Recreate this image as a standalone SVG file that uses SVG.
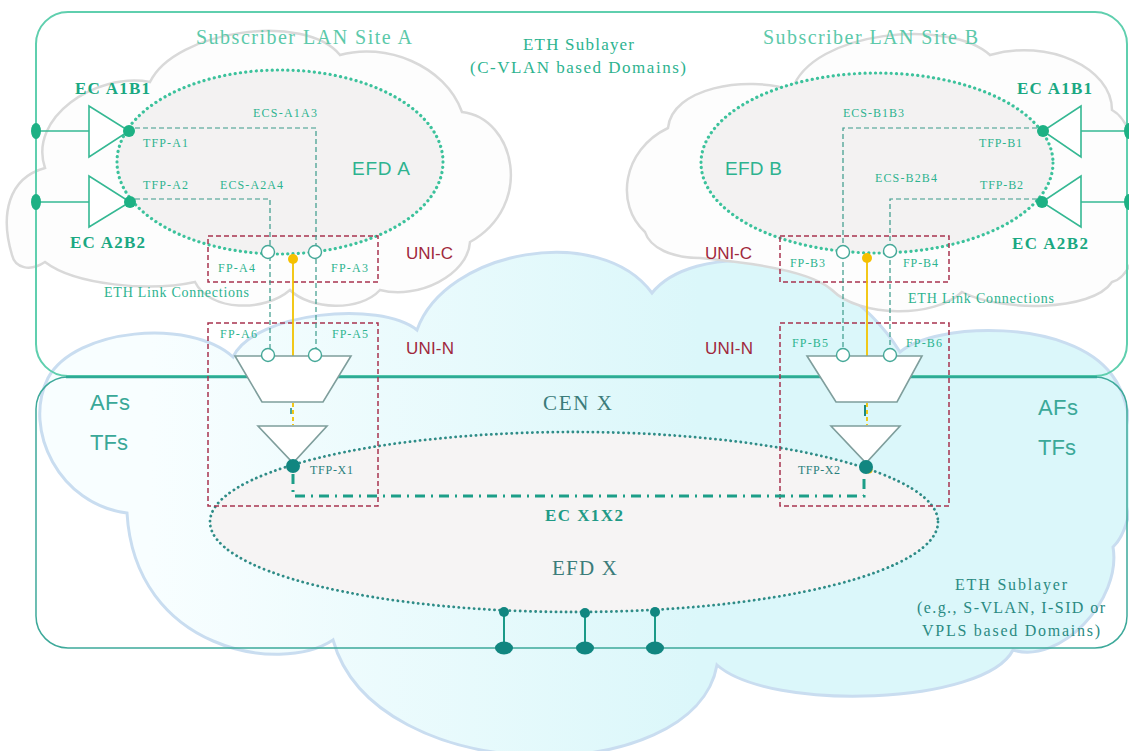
<svg xmlns="http://www.w3.org/2000/svg" width="1129" height="751" viewBox="0 0 1129 751">
<defs>
<linearGradient id="cenFill" gradientUnits="userSpaceOnUse" x1="150" y1="0" x2="700" y2="0">
<stop offset="0" stop-color="#f8feff"/>
<stop offset="1" stop-color="#dbf7fa"/>
</linearGradient>
</defs>
<style>
.cloudS{fill:#fdfdfd;stroke:#d9d9d9;stroke-width:2.5}
.cloudC{fill:url(#cenFill);stroke:#c9ddf0;stroke-width:3}
.efd{fill:#f3f2f2;stroke:#3cc29c;stroke-width:3.2;stroke-dasharray:0.1 5.2;stroke-linecap:round}
.efdx{fill:#f6f4f4;stroke:#2f8c87;stroke-width:2.8;stroke-dasharray:0.1 5;stroke-linecap:round}
.box{fill:none;stroke:#5fcfae;stroke-width:2}
.box2{fill:none;stroke:#3da99a;stroke-width:1.5}
.sep{stroke:#2eaa96;stroke-width:2.5}
.ecs{fill:none;stroke:#3a9a8a;stroke-width:1.2;stroke-dasharray:5 3}
.uni{fill:none;stroke:#a8334f;stroke-width:1.5;stroke-dasharray:5 3}
.ecl{stroke:#35b893;stroke-width:1.6}
.ec{fill:#fff;stroke:#35b893;stroke-width:1.6}
.af{fill:#fff;stroke:#7f9e9c;stroke-width:1.6}
.fp{fill:#fff;stroke:#45a898;stroke-width:1.4}
.tfp{fill:#1db184}
.tfpx{fill:#118680}
.yl{stroke:#f2c200;stroke-width:1.8;fill:none}
.yd{fill:#f5c000}
.xx{fill:none;stroke:#1c9e88;stroke-width:3;stroke-dasharray:10 6 2 6}
.att{stroke:#1a9a88;stroke-width:2}
.t{font-family:"Liberation Serif","Times New Roman",serif;fill:#2db38f}
.s{font-family:"Liberation Sans",Arial,sans-serif}
.b{font-weight:bold;fill:#1aa882}
.red{fill:#a0283c}
.dk{fill:#3b7c7a}
</style>
<rect width="1129" height="751" fill="#ffffff"/>

<g id="clouds">
<path class="cloudC" d="M127,513 C60,505 22,430 48,378 C75,328 190,318 233,357 C255,312 380,300 417,330 C445,250 600,222 652,293 C690,245 830,240 900,352 C935,322 1070,318 1112,375 C1140,410 1142,520 1113,547 C1122,600 1060,665 1013,650 C985,705 770,712 717,665 C695,790 375,790 333,640 C280,675 135,650 127,513 Z"/>
<path class="cloudS" d="M12,255 C0,215 8,178 45,168 C28,118 95,72 150,82 C175,30 305,12 340,55 C385,42 445,65 462,112 C515,118 535,205 470,242 C468,275 418,300 380,290 C360,312 310,310 290,290 C265,312 210,312 195,282 C150,292 75,285 45,262 C30,272 15,268 12,255 Z"/>
<path class="cloudS" d="M645,232 C615,205 622,150 668,128 C672,88 745,75 792,90 C812,30 950,18 990,55 C1048,38 1112,68 1112,110 C1150,130 1152,272 1112,282 C1092,312 1000,312 962,292 C935,318 860,318 832,290 C810,270 745,262 700,258 C672,258 650,248 645,232 Z"/>
</g>

<g id="frames">
<rect class="box" x="36" y="12" width="1091" height="364" rx="32"/>
<rect class="box2" x="36" y="377" width="1091" height="271" rx="32"/>
<line class="sep" x1="66" y1="377" x2="1097" y2="377"/>
</g>

<g id="domains">
<ellipse id="efd-a" class="efd" cx="280" cy="162" rx="163" ry="92"/>
<ellipse id="efd-b" class="efd" cx="877" cy="163" rx="176" ry="90"/>
<ellipse id="efd-x" class="efdx" cx="574" cy="522" rx="364" ry="90"/>
</g>

<g id="uni-boxes">
<rect class="uni" x="208" y="236" width="170" height="46"/>
<rect class="uni" x="208" y="323" width="170" height="183"/>
<rect class="uni" x="780" y="236" width="169" height="46"/>
<rect class="uni" x="780" y="323" width="169" height="183"/>
</g>

<g id="connectors">
<line class="ecl" x1="36" y1="131" x2="89" y2="131"/>
<line class="ecl" x1="36" y1="202" x2="89" y2="202"/>
<line class="ecl" x1="1081" y1="131" x2="1129" y2="131"/>
<line class="ecl" x1="1081" y1="202" x2="1129" y2="202"/>
<path class="ecs" d="M135,128 H316 V355"/>
<path class="ecs" d="M135,199 H270 V355"/>
<path class="ecs" d="M1037,128 H843 V355"/>
<path class="ecs" d="M1037,199 H890 V355"/>
<line class="yl" x1="293" y1="259" x2="293" y2="357"/>
<line class="yl" x1="867" y1="258" x2="867" y2="357"/>
<line class="yl" x1="293" y1="403" x2="293" y2="425" stroke-dasharray="4 3"/>
<line class="yl" x1="867" y1="403" x2="867" y2="425" stroke-dasharray="4 3"/>
<line x1="291" y1="408" x2="291" y2="414" stroke="#1a8a80" stroke-width="1.5"/>
<line x1="865" y1="405" x2="865" y2="416" stroke="#1a8a80" stroke-width="2"/>
<path class="xx" d="M293,474 V496 H864 V474"/>
<line class="att" x1="504" y1="612" x2="504" y2="648"/>
<line class="att" x1="585" y1="613" x2="585" y2="648"/>
<line class="att" x1="655" y1="612" x2="655" y2="648"/>
</g>

<g id="ec-a1b1-a">
<ellipse class="tfp" cx="36" cy="131" rx="5" ry="8"/>
<polygon class="ec" points="89,106 89,157 129,131"/>
<circle id="tfp-a1" class="tfp" cx="129" cy="131" r="6"/>
</g>
<g id="ec-a2b2-a">
<ellipse class="tfp" cx="36" cy="202" rx="5" ry="8"/>
<polygon class="ec" points="89,176 89,227 130,202"/>
<circle id="tfp-a2" class="tfp" cx="130" cy="202" r="6"/>
</g>
<g id="ec-a1b1-b">
<ellipse class="tfp" cx="1129" cy="131" rx="5" ry="8"/>
<polygon class="ec" points="1081,106 1081,157 1043,131"/>
<circle id="tfp-b1" class="tfp" cx="1043" cy="131" r="6"/>
</g>
<g id="ec-a2b2-b">
<ellipse class="tfp" cx="1129" cy="202" rx="5" ry="8"/>
<polygon class="ec" points="1081,176 1081,227 1042,202"/>
<circle id="tfp-b2" class="tfp" cx="1042" cy="202" r="6"/>
</g>

<g id="uni-c-a">
<circle id="fp-a4" class="fp" cx="268" cy="252" r="6.5"/>
<circle id="fp-a3" class="fp" cx="315" cy="252" r="6.5"/>
<circle class="yd" cx="293" cy="259" r="5"/>
</g>
<g id="uni-c-b">
<circle id="fp-b3" class="fp" cx="843" cy="252" r="6.5"/>
<circle id="fp-b4" class="fp" cx="890" cy="251" r="6.5"/>
<circle class="yd" cx="867" cy="258" r="5"/>
</g>

<g id="uni-n-a">
<polygon class="af" points="235,356 351,356 323,402 262,402"/>
<circle id="fp-a6" class="fp" cx="268" cy="355" r="6.5"/>
<circle id="fp-a5" class="fp" cx="315" cy="355" r="6.5"/>
<polygon class="af" points="258,426 327,426 293,463"/>
<circle id="tfp-x1" class="tfpx" cx="293" cy="466" r="7"/>
</g>
<g id="uni-n-b">
<polygon class="af" points="807,356 922,356 897,402 836,402"/>
<circle id="fp-b5" class="fp" cx="843" cy="355" r="6.5"/>
<circle id="fp-b6" class="fp" cx="890" cy="355" r="6.5"/>
<polygon class="af" points="831,426 900,426 866,463"/>
<circle class="yd" cx="869" cy="470" r="3.5"/>
<circle id="tfp-x2" class="tfpx" cx="866" cy="467" r="7"/>
</g>

<g id="attachments">
<circle class="tfpx" cx="504" cy="612" r="5"/>
<circle class="tfpx" cx="585" cy="613" r="5"/>
<circle class="tfpx" cx="655" cy="612" r="5"/>
<ellipse class="tfpx" cx="504" cy="648" rx="9" ry="6.5"/>
<ellipse class="tfpx" cx="585" cy="648" rx="9" ry="6.5"/>
<ellipse class="tfpx" cx="655" cy="648" rx="9" ry="6.5"/>
</g>

<g id="labels">
<text class="t" x="196" y="44" font-size="20" textLength="216" style="fill:#5cc9aa">Subscriber LAN Site A</text>
<text class="t" x="763" y="44" font-size="20" textLength="215" style="fill:#5cc9aa">Subscriber LAN Site B</text>
<text class="t" x="523" y="50" font-size="17" textLength="111">ETH Sublayer</text>
<text class="t" x="470" y="73" font-size="17" textLength="216">(C-VLAN based Domains)</text>

<text class="t b" x="75" y="94" font-size="17" textLength="75">EC A1B1</text>
<text class="t b" x="70" y="248" font-size="17" textLength="75">EC A2B2</text>
<text class="t b" x="1017" y="94" font-size="17" textLength="75">EC A1B1</text>
<text class="t b" x="1012" y="249" font-size="17" textLength="76">EC A2B2</text>

<text class="t" x="143" y="147" font-size="12" textLength="45">TFP-A1</text>
<text class="t" x="143" y="189" font-size="12" textLength="45">TFP-A2</text>
<text class="t" x="253" y="117" font-size="12" textLength="64">ECS-A1A3</text>
<text class="t" x="220" y="189" font-size="12" textLength="63">ECS-A2A4</text>
<text class="t s" x="352" y="175" font-size="19" textLength="58">EFD A</text>

<text class="t s" x="725" y="175" font-size="19" textLength="57">EFD B</text>
<text class="t" x="843" y="117" font-size="12" textLength="61">ECS-B1B3</text>
<text class="t" x="979" y="147" font-size="12" textLength="43">TFP-B1</text>
<text class="t" x="875" y="182" font-size="12" textLength="62">ECS-B2B4</text>
<text class="t" x="980" y="189" font-size="12" textLength="43">TFP-B2</text>

<text class="t" x="218" y="272" font-size="12" textLength="37">FP-A4</text>
<text class="t" x="331" y="272" font-size="12" textLength="37">FP-A3</text>
<text class="t" x="220" y="338" font-size="12" textLength="37">FP-A6</text>
<text class="t" x="332" y="338" font-size="12" textLength="36">FP-A5</text>
<text class="t" x="790" y="267" font-size="12" textLength="35">FP-B3</text>
<text class="t" x="903" y="267" font-size="12" textLength="35">FP-B4</text>
<text class="t" x="792" y="347" font-size="12" textLength="36">FP-B5</text>
<text class="t" x="906" y="347" font-size="12" textLength="36">FP-B6</text>

<text class="s red" x="406" y="259" font-size="17" textLength="47">UNI-C</text>
<text class="s red" x="406" y="354" font-size="17" textLength="48">UNI-N</text>
<text class="s red" x="705" y="259" font-size="17" textLength="47">UNI-C</text>
<text class="s red" x="705" y="354" font-size="17" textLength="48">UNI-N</text>

<text class="t" x="104" y="297" font-size="14" textLength="145">ETH Link Connections</text>
<text class="t" x="908" y="303" font-size="14" textLength="146">ETH Link Connections</text>

<text class="t dk" x="543" y="410" font-size="21" textLength="69">CEN X</text>
<text class="s" x="90" y="410" font-size="22" textLength="40" fill="#3aa898">AFs</text>
<text class="s" x="90" y="450" font-size="22" textLength="38" fill="#3aa898">TFs</text>
<text class="s" x="1038" y="415" font-size="22" textLength="40" fill="#3aa898">AFs</text>
<text class="s" x="1038" y="455" font-size="22" textLength="38" fill="#3aa898">TFs</text>

<text class="t" x="310" y="474" font-size="12" textLength="43" style="fill:#2a7f7c">TFP-X1</text>
<text class="t" x="798" y="474" font-size="12" textLength="42" style="fill:#2a7f7c">TFP-X2</text>
<text class="t b" x="545" y="521" font-size="17" textLength="78" style="fill:#1f9a86">EC X1X2</text>
<text class="t dk" x="552" y="575" font-size="21" textLength="65">EFD X</text>

<text class="t" x="955" y="590" font-size="16" textLength="112" style="fill:#2a8a82">ETH Sublayer</text>
<text class="t" x="917" y="613" font-size="16" textLength="188" style="fill:#2a8a82">(e.g., S-VLAN, I-SID or</text>
<text class="t" x="922" y="636" font-size="16" textLength="178" style="fill:#2a8a82">VPLS based Domains)</text>
</g>
</svg>
